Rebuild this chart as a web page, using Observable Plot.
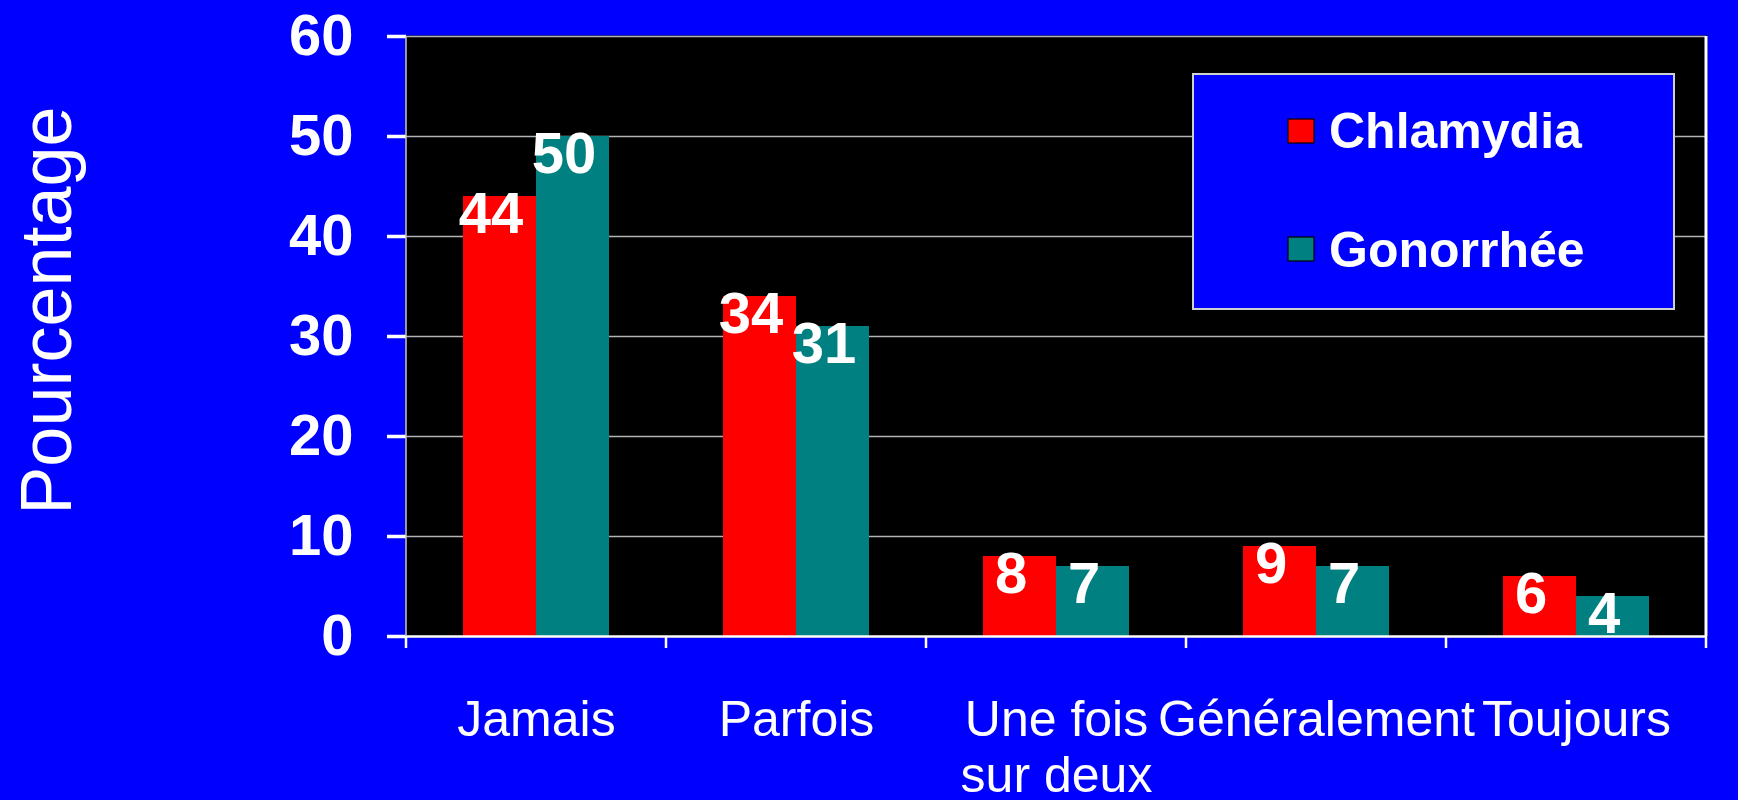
<!DOCTYPE html>
<html><head><meta charset="utf-8">
<script src="https://cdn.jsdelivr.net/npm/d3@7"></script>
<script src="https://cdn.jsdelivr.net/npm/@observablehq/plot@0.6"></script>
<style>
html,body{margin:0;padding:0;background:#0000ff;}
#wrap{position:relative;width:1738px;height:800px;overflow:hidden;}
</style></head><body><div id="wrap"></div>
<script>
const categories = ["Jamais", "Parfois", "Une fois\nsur deux", "Généralement", "Toujours"];
const series = ["Chlamydia", "Gonorrhée"];
const chlamydia = [44, 34, 8, 9, 6];
const gonorrhee = [50, 31, 7, 7, 4];
const colors = ["#ff0000", "#008080"];
const yTicks = [0, 10, 20, 30, 40, 50, 60];
const yLabel = "Pourcentage";

const values = [chlamydia, gonorrhee];
const data = [];
categories.forEach((c, i) => series.forEach((s, j) => data.push({cat: c, series: s, value: values[j][i]})));

const font = '"Liberation Sans", Arial, sans-serif';

function frameDecor(index, scales, vals, dims) {
  const fx = scales.fx;
  const bw = fx.bandwidth();
  const xs = categories.map(c => fx(c)).concat([fx(categories[categories.length - 1]) + bw]);
  const y0 = dims.height - dims.marginBottom;
  const yt = dims.marginTop;
  const g = d3.create("svg:g");
  g.append("line").attr("x1", xs[0]).attr("x2", xs[0]).attr("y1", yt).attr("y2", y0)
    .attr("stroke", "#c8c8c8").attr("stroke-width", 1.5);
  g.append("line").attr("x1", xs[xs.length - 1]).attr("x2", xs[xs.length - 1]).attr("y1", yt).attr("y2", y0)
    .attr("stroke", "white").attr("stroke-width", 3);
  g.selectAll(".t").data(xs).join("line").attr("class", "t")
    .attr("x1", d => d).attr("x2", d => d).attr("y1", y0).attr("y2", y0 + 12)
    .attr("stroke", "white").attr("stroke-width", 2.5);
  return g.node();
}

const plot = Plot.plot({
  width: 1738, height: 800,
  marginLeft: 405, marginRight: 31, marginTop: 36, marginBottom: 164,
  style: {background: "#0000ff", color: "white", fontFamily: font, overflow: "visible"},
  fx: {domain: categories, padding: 0, label: null},
  x: {domain: series, paddingInner: 0, paddingOuter: 0.77, axis: null},
  y: {domain: [0, 60], label: null},
  color: {domain: series, range: colors},
  marks: [
    Plot.frame({fill: "black", inset: -1}),
    Plot.gridY([10, 20, 30, 40, 50, 60], {stroke: "#b4b4b4", strokeOpacity: 1, strokeWidth: 1.4}),
    Plot.barY(data, {fx: "cat", x: "series", y: "value", fill: "series"}),
    Plot.ruleY([0], {stroke: "white", strokeWidth: 2.5}),
    Plot.text(data, {fx: "cat", x: "series", y: "value", text: d => String(d.value), fill: "white",
      fontSize: 58, fontWeight: "bold", dx: -9, dy: 18, lineAnchor: "middle"}),
    Plot.axisY({ticks: yTicks, tickSize: 19, tickPadding: 34, fontSize: 58, fontWeight: "bold",
      stroke: "white", strokeWidth: 3.5, fill: "white", label: null, tickFormat: d => String(d)}),
    Plot.axisFx({anchor: "bottom", tickSize: 0, tickPadding: 59, fontSize: 50, lineHeight: 1.13,
      label: null, fill: "white"}),
    Plot.frame({facet: "super", render: frameDecor}),
    Plot.text([yLabel], {facet: "super", frameAnchor: "left", rotate: -90, fontSize: 72, fill: "white",
      textAnchor: "middle", dx: -336, dy: -26, lineAnchor: "bottom"})
  ]
});
const wrap = document.getElementById("wrap");
wrap.appendChild(plot);

// legend
const leg = d3.create("svg").attr("width", 484).attr("height", 238)
  .style("position", "absolute").style("left", "1192px").style("top", "73px");
leg.append("rect").attr("x", 1).attr("y", 1).attr("width", 481).attr("height", 235)
  .attr("fill", "#0000ff").attr("stroke", "#d0d0d0").attr("stroke-width", 2);
series.forEach((s, i) => {
  leg.append("rect").attr("x", 96).attr("y", 46 + i * 118).attr("width", 26).attr("height", 24)
    .attr("fill", colors[i]).attr("stroke", "black").attr("stroke-width", 1.2);
  leg.append("text").attr("x", 137).attr("y", 75 + i * 119).attr("fill", "white")
    .attr("font-family", font).attr("font-weight", "bold").attr("font-size", 50).text(s);
});
wrap.appendChild(leg.node());
</script></body></html>
